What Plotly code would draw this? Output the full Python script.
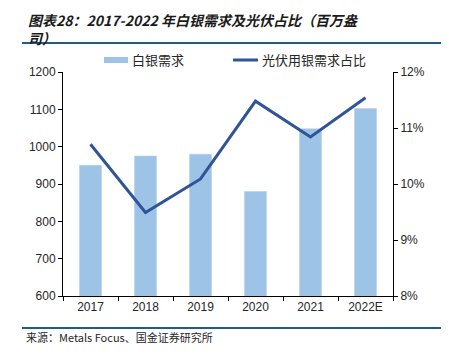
import plotly.graph_objects as go

years = ["2017", "2018", "2019", "2020", "2021", "2022E"]
silver_demand = [950, 975, 980, 880, 1048, 1102]
pv_share = [0.1071, 0.0949, 0.1009, 0.1148, 0.1084, 0.1154]

left_ticks = [600, 700, 800, 900, 1000, 1100, 1200]
right_ticks = [0.08, 0.09, 0.10, 0.11, 0.12]

BAR_C = "#9DC3E6"
LINE_C = "#2F5597"
TXT = "#262626"

# page has 8px body offset; plot area in page pixels: x 63..393, y 72..296
def px(x):
    return (x - 63) / 330.0

def py(y):
    return (296 - y) / 224.0

fig = go.Figure()
fig.add_trace(go.Bar(x=years, y=silver_demand, marker=dict(color=BAR_C, line=dict(color="#B8CCE0", width=0.5)),
                     name="白银需求", yaxis="y"))
fig.add_trace(go.Scatter(x=years, y=pv_share, mode="lines", line=dict(color=LINE_C, width=3),
                         name="光伏用银需求占比", yaxis="y2"))

fig.update_layout(
    width=449, height=356,
    margin=dict(l=55, r=64, t=64, b=68),
    paper_bgcolor="white", plot_bgcolor="white",
    showlegend=False,
    bargap=0.6,
    font=dict(family="Liberation Sans, Arial, sans-serif", size=12, color=TXT),
    xaxis=dict(type="category", tickson="boundaries", ticks="outside", ticklen=4, tickcolor="#000",
               showline=True, linecolor="#000", linewidth=1, showgrid=False,
               tickfont=dict(size=12, color=TXT)),
    yaxis=dict(range=[600, 1200], tickvals=left_ticks, ticks="outside", ticklen=4, tickcolor="#000",
               showline=True, linecolor="#000", linewidth=1, showgrid=False, zeroline=False,
               tickfont=dict(size=12, color=TXT)),
    yaxis2=dict(range=[0.08, 0.12], tickvals=right_ticks, tickformat=".0%", overlaying="y", side="right",
                ticks="outside", ticklen=4, tickcolor="#000",
                showline=True, linecolor="#000", linewidth=1, showgrid=False, zeroline=False,
                tickfont=dict(size=12, color=TXT)),
)

shapes = [
    dict(type="line", xref="paper", yref="paper", x0=px(22), x1=px(460), y0=py(43), y1=py(43),
         line=dict(color="#1F5C8B", width=2)),
    dict(type="line", xref="paper", yref="paper", x0=px(22), x1=px(460), y0=py(328), y1=py(328),
         line=dict(color="#1F5C8B", width=2)),
    dict(type="rect", xref="paper", yref="paper", x0=px(104), x1=px(128), y0=py(63), y1=py(57),
         fillcolor=BAR_C, line=dict(width=0)),
    dict(type="line", xref="paper", yref="paper", x0=px(233), x1=px(258), y0=py(60), y1=py(60),
         line=dict(color=LINE_C, width=3)),
]
fig.update_layout(shapes=shapes)

title_font = dict(family="Noto Sans CJK SC", size=14, color="#1a1a1a")
ann = [
    dict(text="<b><i>图表28：2017-2022 年白银需求及光伏占比（百万盎<br>司）</i></b>",
         xref="paper", yref="paper", x=px(26), y=py(8), xanchor="left", yanchor="top",
         align="left", showarrow=False, font=title_font),
    dict(text="白银需求", xref="paper", yref="paper", x=px(130), y=py(60), xanchor="left", yanchor="middle",
         showarrow=False, font=dict(family="Noto Sans CJK SC", size=13, color=TXT)),
    dict(text="光伏用银需求占比", xref="paper", yref="paper", x=px(260), y=py(60), xanchor="left", yanchor="middle",
         showarrow=False, font=dict(family="Noto Sans CJK SC", size=13, color=TXT)),
    dict(text="来源：Metals Focus、国金证券研究所", xref="paper", yref="paper", x=px(24), y=py(337),
         xanchor="left", yanchor="middle", showarrow=False,
         font=dict(family="Noto Sans CJK SC", size=11, color=TXT)),
]
fig.update_layout(annotations=ann)

fig.write_html("out.html")
